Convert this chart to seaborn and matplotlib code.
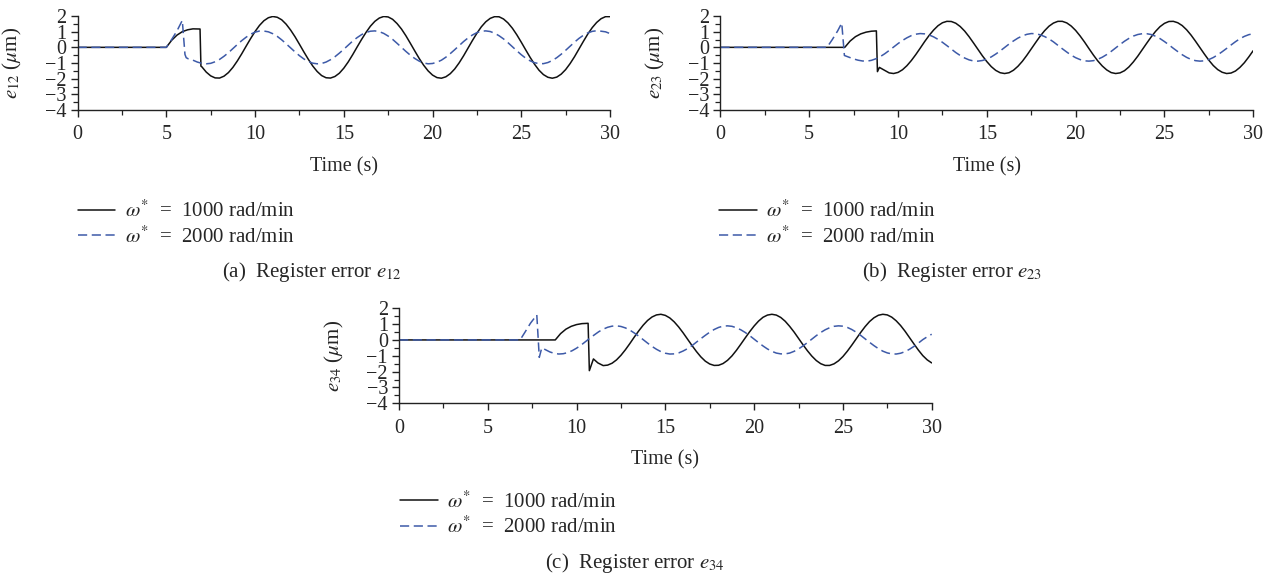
import matplotlib

matplotlib.use("Agg")

import matplotlib.pyplot as plt
import seaborn as sns
from matplotlib.ticker import MultipleLocator

# quarter-second sampling grid used after the start-up transients
GRID = [6.5, 6.75, 7.0, 7.25, 7.5, 7.75, 8.0, 8.25, 8.5, 8.75, 9.0, 9.25, 9.5, 9.75,
        10.0, 10.25, 10.5, 10.75, 11.0, 11.25, 11.5, 11.75, 12.0, 12.25, 12.5, 12.75,
        13.0, 13.25, 13.5, 13.75, 14.0, 14.25, 14.5, 14.75, 15.0, 15.25, 15.5, 15.75,
        16.0, 16.25, 16.5, 16.75, 17.0, 17.25, 17.5, 17.75, 18.0, 18.25, 18.5, 18.75,
        19.0, 19.25, 19.5, 19.75, 20.0, 20.25, 20.5, 20.75, 21.0, 21.25, 21.5, 21.75,
        22.0, 22.25, 22.5, 22.75, 23.0, 23.25, 23.5, 23.75, 24.0, 24.25, 24.5, 24.75,
        25.0, 25.25, 25.5, 25.75, 26.0, 26.25, 26.5, 26.75, 27.0, 27.25, 27.5, 27.75,
        28.0, 28.25, 28.5, 28.75, 29.0, 29.25, 29.5, 29.75, 30.0]

# (a) e12, 1000 rad/min
a1_t0 = [0.0, 5.0, 5.3, 5.6, 5.9, 6.2, 6.5, 6.9, 6.95]
a1_v0 = [0.0, 0.0, 0.45, 0.78, 1.0, 1.12, 1.18, 1.17, -1.2]
a1_start = 7.0
a1_v = [-1.24, -1.58, -1.82, -1.95, -1.96, -1.84, -1.61, -1.28, -0.87, -0.41,
        0.08, 0.56, 1.01, 1.40, 1.70, 1.89, 1.97, 1.92, 1.76, 1.48,
        1.11, 0.68, 0.20, -0.29, -0.76, -1.19, -1.54, -1.80, -1.94, -1.96,
        -1.86, -1.65, -1.33, -0.93, -0.47, 0.02, 0.50, 0.95, 1.35, 1.66,
        1.87, 1.97, 1.94, 1.79, 1.52, 1.17, 0.74, 0.26, -0.23, -0.71,
        -1.14, -1.50, -1.77, -1.93, -1.97, -1.88, -1.68, -1.38, -0.99, -0.54,
        -0.05, 0.44, 0.90, 1.31, 1.63, 1.85, 1.96, 1.95, 1.81, 1.56,
        1.22, 0.80, 0.33, -0.16, -0.64, -1.08, -1.46, -1.74, -1.91, -1.97,
        -1.90, -1.71, -1.42, -1.04, -0.60, -0.11, 0.38, 0.85, 1.26, 1.59,
        1.83, 1.96, 1.96]

# (a) e12, 2000 rad/min
a2_t0 = [0.0, 5.0, 5.3, 5.6, 5.9, 6.05, 6.12, 6.25]
a2_v0 = [0.0, 0.0, 0.5, 1.05, 1.72, -0.45, -0.66, -0.74]
a2_start = 6.5
a2_v = [-0.82, -0.94, -1.02, -1.05, -1.02, -0.92, -0.77, -0.57, -0.34, -0.08,
        0.18, 0.43, 0.65, 0.84, 0.97, 1.04, 1.04, 0.99, 0.87, 0.70,
        0.48, 0.23, -0.03, -0.29, -0.53, -0.74, -0.90, -1.01, -1.05, -1.03,
        -0.94, -0.79, -0.60, -0.37, -0.12, 0.14, 0.40, 0.62, 0.81, 0.95,
        1.03, 1.05, 1.00, 0.89, 0.72, 0.51, 0.26, 0.00, -0.26, -0.50,
        -0.71, -0.88, -1.00, -1.05, -1.03, -0.95, -0.82, -0.63, -0.40, -0.15,
        0.11, 0.37, 0.60, 0.79, 0.94, 1.03, 1.05, 1.01, 0.90, 0.74,
        0.54, 0.30, 0.04, -0.22, -0.47, -0.69, -0.86, -0.98, -1.04, -1.04,
        -0.97, -0.84, -0.66, -0.44, -0.19, 0.07, 0.33, 0.57, 0.77, 0.92,
        1.02, 1.06, 1.03, 0.99, 0.88]

# (b) e23, 1000 rad/min
b1_t0 = [0.0, 7.0, 7.3, 7.6, 7.9, 8.2, 8.5, 8.78, 8.84, 8.95]
b1_v0 = [0.0, 0.0, 0.40, 0.68, 0.86, 0.97, 1.03, 1.05, -1.55, -1.28]
b1_start = 9.5
b1_v = [-1.63, -1.67, -1.60, -1.43, -1.17, -0.84, -0.46, -0.05, 0.37, 0.76,
        1.10, 1.38, 1.57, 1.66, 1.65, 1.54, 1.33, 1.04, 0.68, 0.28,
        -0.13, -0.54, -0.91, -1.23, -1.47, -1.62, -1.67, -1.62, -1.46, -1.21,
        -0.89, -0.51, -0.10, 0.31, 0.71, 1.06, 1.35, 1.55, 1.66, 1.66,
        1.56, 1.36, 1.08, 0.73, 0.34, -0.08, -0.49, -0.87, -1.19, -1.44,
        -1.61, -1.67, -1.63, -1.49, -1.25, -0.93, -0.56, -0.15, 0.26, 0.66,
        1.02, 1.32, 1.53, 1.65, 1.66, 1.57, 1.39, 1.12, 0.78, 0.39,
        -0.02, -0.43, -0.82, -1.16, -1.42, -1.59, -1.67, -1.64, -1.51, -1.28,
        -0.98, -0.61, -0.21]

# (b) e23, 2000 rad/min
b2_t0 = [0.0, 6.0, 6.3, 6.6, 6.83, 6.98, 7.5, 7.75]
b2_v0 = [0.0, 0.0, 0.50, 1.05, 1.55, -0.52, -0.74, -0.82]
b2_start = 8.0
b2_v = [-0.87, -0.88, -0.83, -0.73, -0.59, -0.41, -0.20, 0.02, 0.24, 0.44,
        0.61, 0.75, 0.84, 0.88, 0.86, 0.79, 0.67, 0.51, 0.32, 0.11,
        -0.11, -0.33, -0.52, -0.68, -0.80, -0.87, -0.88, -0.84, -0.75, -0.61,
        -0.43, -0.23, -0.01, 0.21, 0.41, 0.59, 0.73, 0.83, 0.88, 0.87,
        0.80, 0.69, 0.54, 0.35, 0.13, -0.09, -0.30, -0.50, -0.66, -0.78,
        -0.86, -0.88, -0.85, -0.76, -0.63, -0.46, -0.26, -0.04, 0.18, 0.39,
        0.57, 0.72, 0.82, 0.87, 0.87, 0.82, 0.71, 0.56, 0.37, 0.16,
        -0.06, -0.27, -0.47, -0.64, -0.77, -0.85, -0.88, -0.86, -0.78, -0.65,
        -0.48, -0.28, -0.07, 0.15, 0.36, 0.55, 0.70, 0.81, 0.87]

# (c) e34, 1000 rad/min
c1_t0 = [0.0, 8.8, 9.1, 9.4, 9.7, 10.0, 10.3, 10.65, 10.72, 10.95, 11.2]
c1_v0 = [0.0, 0.0, 0.40, 0.68, 0.86, 0.97, 1.03, 1.05, -1.94, -1.20, -1.45]
c1_start = 11.5
c1_v = [-1.62, -1.59, -1.47, -1.26, -0.97, -0.62, -0.23, 0.18, 0.57, 0.93,
        1.23, 1.45, 1.58, 1.62, 1.55, 1.39, 1.14, 0.82, 0.45, 0.05,
        -0.35, -0.73, -1.07, -1.34, -1.52, -1.61, -1.60, -1.49, -1.29, -1.01,
        -0.66, -0.27, 0.13, 0.52, 0.88, 1.19, 1.43, 1.57, 1.62, 1.57,
        1.42, 1.18, 0.86, 0.50, 0.10, -0.30, -0.68, -1.02, -1.30, -1.50,
        -1.61, -1.61, -1.51, -1.32, -1.05, -0.71, -0.33, 0.07, 0.47, 0.84,
        1.16, 1.40, 1.56, 1.62, 1.58, 1.44, 1.21, 0.91, 0.55, 0.15,
        -0.25, -0.64, -0.99, -1.26, -1.45]

# (c) e34, 2000 rad/min
c2_t0 = [0.0, 6.82, 7.1, 7.4, 7.76, 7.9, 8.04]
c2_v0 = [0.0, 0.0, 0.50, 1.05, 1.58, -1.10, -0.50]
c2_start = 8.5
c2_v = [-0.76, -0.85, -0.89, -0.87, -0.80, -0.68, -0.52, -0.33, -0.11, 0.11,
        0.32, 0.52, 0.68, 0.80, 0.87, 0.89, 0.85, 0.76, 0.62, 0.44,
        0.24, 0.02, -0.20, -0.41, -0.59, -0.74, -0.84, -0.89, -0.88, -0.82,
        -0.70, -0.55, -0.36, -0.14, 0.08, 0.29, 0.49, 0.66, 0.79, 0.87,
        0.89, 0.86, 0.77, 0.64, 0.47, 0.27, 0.05, -0.17, -0.38, -0.57,
        -0.72, -0.83, -0.88, -0.88, -0.83, -0.72, -0.57, -0.38, -0.17, 0.05,
        0.27, 0.47, 0.64, 0.77, 0.86, 0.89, 0.87, 0.79, 0.66, 0.49,
        0.29, 0.07, -0.15, -0.36, -0.55, -0.71, -0.82, -0.88, -0.89, -0.84,
        -0.74, -0.59, -0.41, -0.20, 0.02, 0.20, 0.36]

labels = [r"$\omega^{*}$  =  1000 rad/min", r"$\omega^{*}$  =  2000 rad/min"]
ylabels = [r"$e_{12}$ ($\mu$m)", r"$e_{23}$ ($\mu$m)", r"$e_{34}$ ($\mu$m)"]
captions = [r"(a)  Register error $e_{12}$", r"(b)  Register error $e_{23}$",
            r"(c)  Register error $e_{34}$"]

BLACK = "#111111"
BLUE = "#3d5aa8"
FS = 14.5
FS_TEXT = 15


def series(t0, v0, start, values):
    t = t0 + [g for g in GRID if g >= start]
    v = v0 + values
    assert len(t) == len(v)
    return t, v


sns.set_theme(style="ticks")
plt.rcParams["font.family"] = ["Liberation Serif", "DejaVu Serif"]
plt.rcParams["mathtext.fontset"] = "stix"

fig = plt.figure(figsize=(12.74, 5.8), dpi=100)
ax_a = fig.add_axes([0.0609, 0.8103, 0.4179, 0.1621])
ax_b = fig.add_axes([0.5655, 0.8103, 0.4182, 0.1621])
ax_c = fig.add_axes([0.3132, 0.3047, 0.4181, 0.1638])

panels = [
    (ax_a, series(a1_t0, a1_v0, a1_start, a1_v), series(a2_t0, a2_v0, a2_start, a2_v)),
    (ax_b, series(b1_t0, b1_v0, b1_start, b1_v), series(b2_t0, b2_v0, b2_start, b2_v)),
    (ax_c, series(c1_t0, c1_v0, c1_start, c1_v), series(c2_t0, c2_v0, c2_start, c2_v)),
]

legend_pos = [(0.0612, 0.654), (0.5644, 0.654), (0.314, 0.153)]
caption_pos = [(312 / 1274, 1 - 272 / 580), (952 / 1274, 1 - 272 / 580),
               (635 / 1274, 1 - 563 / 580)]

for i, (ax, (t1, v1), (t2, v2)) in enumerate(panels):
    sns.lineplot(x=t1, y=v1, ax=ax, color=BLACK, lw=1.1, errorbar=None, label=labels[0])
    sns.lineplot(x=t2, y=v2, ax=ax, color=BLUE, lw=1.1, errorbar=None,
                 linestyle=(0, (6, 3)), label=labels[1])
    ax.set_xlim(0, 30)
    ax.set_ylim(-4, 2)
    ax.xaxis.set_major_locator(MultipleLocator(5))
    ax.xaxis.set_minor_locator(MultipleLocator(2.5))
    ax.yaxis.set_major_locator(MultipleLocator(1))
    ax.yaxis.set_minor_locator(MultipleLocator(0.5))
    sns.despine(ax=ax)
    for side in ("left", "bottom"):
        ax.spines[side].set_linewidth(1.0)
        ax.spines[side].set_color("#222222")
    ax.tick_params(which="major", direction="out", length=5, width=1.0,
                   color="#222222", labelsize=FS)
    ax.tick_params(axis="x", which="major", pad=6)
    ax.tick_params(axis="y", which="major", pad=3)
    ax.tick_params(which="minor", direction="out", length=3.5, width=0.9,
                   color="#222222")
    ax.set_xlabel("Time (s)", fontsize=FS, labelpad=9)
    ax.set_ylabel(ylabels[i], fontsize=15)
    ax.yaxis.set_label_coords(-0.1, 0.5)
    ax.legend(loc="upper left", bbox_to_anchor=legend_pos[i],
              bbox_transform=fig.transFigure, frameon=False, borderpad=0,
              borderaxespad=0, handlelength=1.8, handletextpad=0.45,
              labelspacing=0.2, fontsize=FS_TEXT)
    fig.text(caption_pos[i][0], caption_pos[i][1], captions[i], ha="center",
             va="center", fontsize=FS_TEXT)

fig.savefig("out.png", dpi=100)
plt.close(fig)
